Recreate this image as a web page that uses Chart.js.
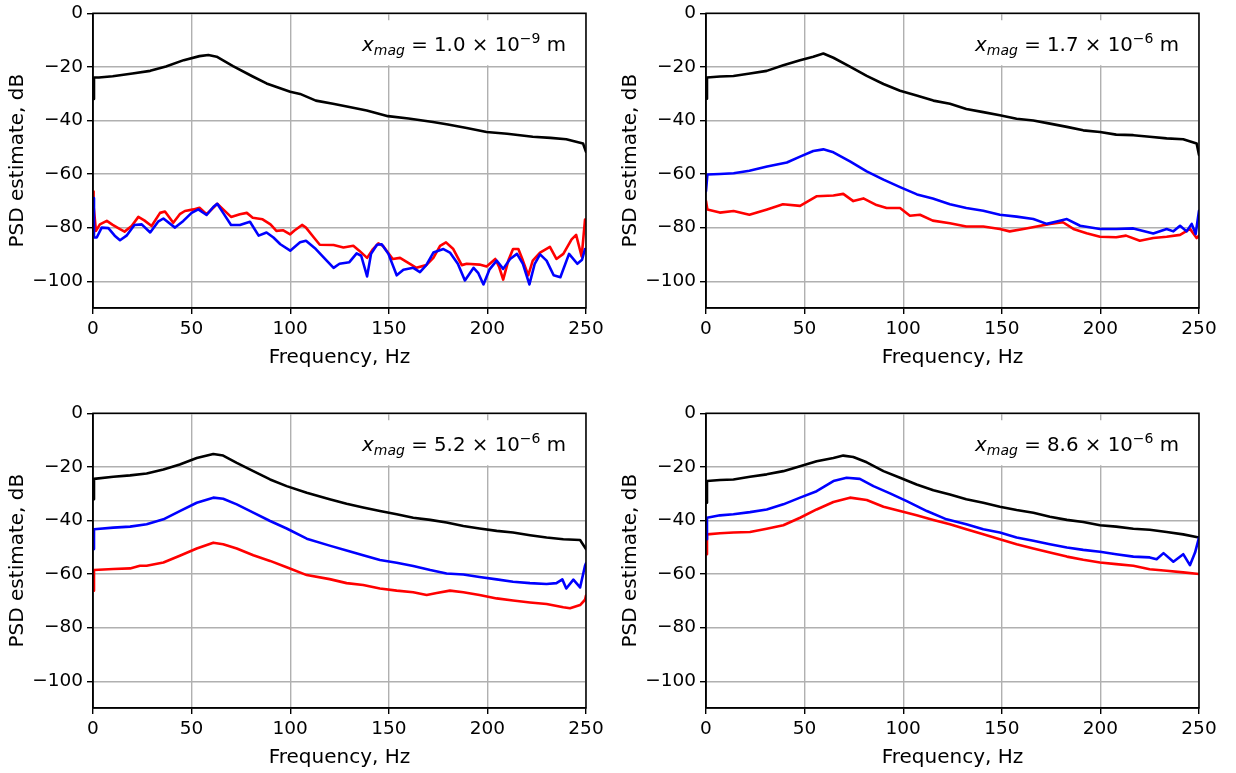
<!DOCTYPE html>
<html><head><meta charset="utf-8">
<script src="https://cdn.jsdelivr.net/npm/chart.js@4.4.0/dist/chart.umd.min.js"></script>
<style>
html,body{margin:0;padding:0;background:#fff;}
#wrap{position:relative;width:1236px;height:773px;overflow:hidden;}
.cell{position:absolute;width:618px;height:373px;}
canvas{display:block;}
</style></head><body>
<div id="wrap">
<div class="cell" style="left:0;top:0"><canvas id="c0" width="618" height="373"></canvas></div>
<div class="cell" style="left:613px;top:0"><canvas id="c1" width="618" height="373"></canvas></div>
<div class="cell" style="left:0;top:400px"><canvas id="c2" width="618" height="373"></canvas></div>
<div class="cell" style="left:613px;top:400px"><canvas id="c3" width="618" height="373"></canvas></div>
</div>
<script>
// ---- tick labels / annotation text ----
const xTicks = [0, 50, 100, 150, 200, 250];
const yTicks = [0, -20, -40, -60, -80, -100];
const noteMantissa = ['1.0', '1.7', '5.2', '8.6'];
const noteExponent = ['\u22129', '\u22126', '\u22126', '\u22126'];

// ---- panel A (top-left): [frequency Hz, PSD dB] ----
const A_black = [[0,-32],[0.5,-24],[3,-24],[10,-23.5],[20,-22.5],[29,-21.5],[37,-19.9],[46,-17.5],[54,-16],[58.5,-15.6],[62.7,-16.2],[71,-19.7],[81,-23.6],[88,-26.2],[100,-29.3],[105,-30.1],[113,-32.6],[121.7,-33.8],[130,-35],[138.8,-36.3],[149.6,-38.4],[160,-39.3],[172.4,-40.6],[180,-41.5],[189.5,-42.8],[199.6,-44.3],[210,-45],[223,-46.1],[232,-46.5],[240,-47],[248.5,-48.6],[250,-51.7]];
const A_blue = [[0,-69],[0.5,-83.7],[1.9,-83.7],[4.4,-80],[7.8,-80.2],[11,-83],[13.7,-84.7],[17,-83],[21,-79],[24.7,-78.8],[29,-81.8],[33,-77.8],[35.7,-76.6],[41.6,-80],[45.8,-77.5],[50,-74.5],[53.4,-73.2],[57.6,-75.3],[61,-72.3],[63,-71.1],[66,-74.5],[70,-79],[74.5,-79],[79.6,-77.8],[84,-83],[88,-81.8],[91.5,-83.7],[95,-86.2],[100,-88.6],[105,-85.5],[108,-84.9],[113,-88],[118.5,-92.3],[122,-95],[125,-93.5],[130,-92.9],[133.7,-89.6],[136,-90.5],[139,-98.2],[141,-89.8],[144,-86.4],[146.4,-86.2],[149.8,-89.8],[154,-97.8],[157.4,-95.7],[162.4,-95],[165.8,-96.6],[169,-94],[172.6,-89.3],[177.7,-88],[181,-89.3],[185,-93.5],[188.6,-99.7],[193,-95],[195.4,-97],[198,-101.2],[201,-95.7],[204.7,-92.3],[208,-95.4],[211.5,-91.7],[215,-89.8],[218,-93.5],[221.3,-101.2],[224,-93.5],[226.7,-90],[230,-92.3],[233.6,-97.8],[237,-98.5],[241.4,-89.8],[245.6,-93.5],[248,-92],[249.5,-88],[250,-88]];
const A_red = [[0,-66.5],[0.3,-72],[1.5,-81.2],[3.5,-78.8],[7,-77.5],[10,-79],[13.7,-80.6],[16,-81.5],[19.6,-79.4],[23,-76],[26,-77.3],[29.7,-79.4],[34,-74.5],[36.5,-74],[40.7,-78.2],[44,-75],[46.6,-73.8],[51,-73.2],[54,-72.6],[57.6,-75],[61,-72.6],[63,-71.1],[66,-73.2],[70,-76],[74.5,-75],[78,-74.5],[81,-76.3],[86,-76.9],[90,-78.8],[93,-81.2],[96.5,-81],[100,-82.5],[102,-81.2],[106,-79],[108,-80],[112,-83.7],[115,-86.4],[122,-86.5],[127,-87.4],[132,-86.8],[135,-88.6],[139,-91.3],[142,-88],[144.7,-85.9],[147,-86.8],[152,-91.7],[155.7,-91.3],[160.7,-93.5],[164,-95],[169,-94],[172.6,-91.3],[176,-86.8],[179,-85.5],[182.7,-88],[187,-94],[189.5,-93.5],[196,-93.8],[199.6,-94.5],[204,-91.7],[206,-94.8],[208,-99.4],[210.6,-92.3],[213,-88],[215.7,-88],[218,-92.3],[220.7,-97.8],[223,-92.3],[226.7,-89.3],[231.7,-87.2],[235,-91.7],[238.5,-89.8],[242.7,-84.4],[245,-82.7],[247.8,-90.8],[249.5,-77],[250,-77]];

// ---- panel B (top-right) ----
const B_black = [[0,-31.9],[0.5,-24],[7.1,-23.6],[13.9,-23.4],[22.3,-22.5],[30.8,-21.5],[39.2,-19.4],[47.7,-17.5],[54.4,-16.2],[59.5,-15],[64.6,-16.6],[73,-19.9],[81.5,-23.4],[90,-26.4],[98.4,-28.9],[106.8,-30.7],[115.3,-32.6],[123.7,-33.8],[132,-35.7],[140.6,-36.9],[149,-38.1],[157.5,-39.4],[166,-40],[174.4,-41.2],[183,-42.4],[191.3,-43.7],[199.8,-44.3],[208,-45.3],[216.7,-45.5],[225,-46.1],[233.6,-46.7],[242,-47],[248.8,-48.6],[250,-52.9]];
const B_blue = [[0,-66.4],[0.7,-60.2],[7,-60],[14,-59.7],[22,-58.8],[31,-57.2],[41,-55.7],[47.7,-53.5],[54.4,-51.4],[59.5,-50.8],[64.6,-51.9],[73,-55.3],[81.5,-59],[90,-62.1],[98.4,-64.9],[107,-67.6],[115,-69.1],[123.7,-71.3],[132,-72.7],[140.6,-73.7],[149,-75.2],[157.5,-75.9],[166,-76.8],[172.8,-78.6],[177.8,-77.7],[183,-76.8],[189.7,-79.3],[199.8,-80.5],[208,-80.5],[216.7,-80.3],[226.8,-82.2],[233.6,-80.5],[237,-81.4],[240.4,-79.3],[243.7,-81.4],[246.3,-78.6],[248.3,-82.4],[250,-73.7]];
const B_red = [[0,-70.1],[0.7,-73.2],[7,-74.4],[14,-73.8],[22,-75.2],[31,-73.2],[39,-71.3],[47.7,-71.9],[56,-68.3],[64.6,-68],[69.6,-67.4],[74.7,-70.1],[79.8,-69.1],[86.5,-71.6],[91.6,-72.7],[98.4,-72.7],[103.4,-75.6],[108.5,-75.2],[115,-77.4],[123.7,-78.4],[132,-79.6],[140.6,-79.6],[149,-80.5],[154,-81.4],[161,-80.5],[167.7,-79.6],[174.4,-78.6],[181,-78],[186.3,-80.5],[193,-82.1],[199.8,-83.4],[208,-83.6],[213,-83],[220,-84.9],[226.8,-83.9],[233.6,-83.4],[240.4,-82.7],[245.5,-80.5],[248.8,-83.9],[250,-83]];

// ---- panel C (bottom-left) ----
const C_black = [[0,-32.1],[0.5,-24.5],[10.3,-23.7],[18.8,-23.2],[27.2,-22.5],[35.7,-21],[44,-19.1],[52.6,-16.7],[61,-15.2],[66,-15.8],[72.9,-18.5],[81.3,-21.6],[89.8,-24.7],[98.2,-27.2],[108.4,-29.7],[120,-32.1],[128.6,-33.8],[137,-35.2],[145.5,-36.5],[154,-37.7],[162.4,-39],[171,-39.8],[179.3,-40.8],[187.8,-42.1],[196,-43],[204.7,-43.9],[213,-44.5],[221.6,-45.5],[230,-46.4],[238.5,-47],[247,-47.3],[250,-50.7]];
const C_blue = [[0,-50.7],[0.5,-43.3],[10.3,-42.7],[18.8,-42.3],[27.2,-41.4],[35.7,-39.6],[44,-36.5],[52.6,-33.4],[61,-31.5],[66,-31.9],[72.9,-34],[81.3,-37.1],[89.8,-40.2],[98.2,-43],[108.4,-46.8],[120,-49.4],[128.6,-51.2],[137,-53],[145.5,-54.8],[154,-55.8],[162.4,-57],[171,-58.5],[179.3,-59.8],[187.8,-60.2],[196,-61.1],[204.7,-62],[213,-62.9],[221.6,-63.4],[230,-63.7],[235,-63.4],[238,-62],[240,-65.4],[243.6,-62.1],[247,-65],[249.5,-56.9],[250,-56]];
const C_red = [[0,-66.2],[0.5,-58.5],[10.3,-58.1],[18.8,-57.9],[23.8,-56.9],[27.2,-56.9],[35.7,-55.7],[44,-53.2],[52.6,-50.5],[61,-48.3],[66,-48.9],[72.9,-50.5],[81.3,-53],[89.8,-55.1],[98.2,-57.5],[108.4,-60.4],[120,-61.9],[128.6,-63.4],[137,-64.1],[145.5,-65.4],[154,-66.2],[162.4,-66.8],[169.2,-67.8],[174.3,-67.1],[181,-66.2],[187.8,-66.8],[196,-67.8],[204.7,-69.1],[213,-69.9],[221.6,-70.6],[230,-71.2],[238.5,-72.4],[241.9,-72.8],[247,-71.6],[249.5,-69.6],[250,-68]];

// ---- panel D (bottom-right) ----
const D_black = [[0,-33.4],[0.5,-25.3],[7.1,-24.9],[13.9,-24.7],[22.3,-23.7],[30.8,-22.8],[39.2,-21.6],[47.7,-19.8],[56.1,-17.9],[64.6,-16.7],[69.6,-15.8],[74.7,-16.3],[81.5,-18.3],[90,-21.6],[98.4,-24.1],[106.8,-26.6],[115.3,-28.7],[123.7,-30.3],[132,-32.1],[140.6,-33.4],[149,-34.9],[157.5,-36.1],[166,-37.1],[174.4,-38.6],[183,-39.8],[191.3,-40.6],[199.8,-41.8],[208,-42.3],[216.7,-43.1],[225,-43.5],[233.6,-44.3],[242,-45.2],[250,-46.4]];
const D_blue = [[0,-47],[0.5,-39],[7.1,-38.1],[13.9,-37.7],[22.3,-36.9],[30.8,-35.9],[39.2,-34],[47.7,-31.5],[56.1,-29.1],[64.6,-25.3],[71.3,-24.1],[78,-24.5],[84.9,-27.2],[93.3,-29.9],[101.8,-32.8],[112,-36.5],[122,-39.6],[132,-41.4],[140.6,-43.3],[149,-44.5],[157.5,-46.4],[166,-47.6],[174.4,-48.9],[183,-50.1],[191.3,-51],[199.8,-51.7],[208,-52.6],[216.7,-53.5],[225,-53.8],[228.5,-54.5],[232,-52.2],[237,-55.4],[242,-52.6],[245.4,-56.7],[248,-52],[250,-46.4]];
const D_red = [[0,-52.6],[0.5,-45.2],[7.1,-44.8],[13.9,-44.5],[22.3,-44.3],[30.8,-43.1],[39.2,-41.8],[47.7,-39],[56.1,-35.9],[64.6,-33.1],[73,-31.5],[81.5,-32.4],[90,-34.9],[98.4,-36.5],[106.8,-38.1],[115.3,-39.8],[123.7,-41.4],[132,-43.3],[140.6,-45.2],[149,-47],[157.5,-48.9],[166,-50.5],[174.4,-52],[183,-53.5],[191.3,-54.7],[199.8,-55.7],[208,-56.3],[216.7,-56.9],[225,-58.2],[233.6,-58.8],[242,-59.4],[250,-60]];

const panels = [
  {black: A_black, blue: A_blue, red: A_red},
  {black: B_black, blue: B_blue, red: B_red},
  {black: C_black, blue: C_blue, red: C_red},
  {black: D_black, blue: D_blue, red: D_red}
];

// ---- rendering ----
const FONT = '"DejaVu Sans", "Liberation Sans", sans-serif';
const FS = 18.5;   // tick labels
const FT = 20;     // axis titles
Chart.defaults.font.family = FONT;
Chart.defaults.font.size = FS;
Chart.defaults.color = '#000';

const framePlugin = {
  id: 'frame',
  afterDatasetsDraw(chart) {
    const {ctx, chartArea: a} = chart;
    ctx.save();
    ctx.strokeStyle = '#000';
    ctx.lineWidth = 1.5;
    ctx.strokeRect(a.left, a.top, a.right - a.left, a.bottom - a.top);
    ctx.restore();
  }
};

const notePlugin = {
  id: 'note',
  afterDatasetsDraw(chart, args, opts) {
    const {ctx, chartArea: a} = chart;
    const S = 19.8, s = 14;
    const parts = [
      {t: 'x', f: `italic ${S}px ${FONT}`, dy: 0},
      {t: 'mag', f: `italic ${s}px ${FONT}`, dy: 4},
      {t: ' = ' + opts.mant + ' \u00d7 10', f: `${S}px ${FONT}`, dy: 0},
      {t: opts.exp, f: `${s}px ${FONT}`, dy: -8},
      {t: ' m', f: `${S}px ${FONT}`, dy: 0}
    ];
    ctx.save();
    let W = 0;
    parts.forEach(p => { ctx.font = p.f; p.w = ctx.measureText(p.t).width; W += p.w; });
    const right = a.right - 20;
    const base = a.top + 38;
    let x = right - W;
    ctx.fillStyle = '#fff';
    ctx.fillRect(x - 7, a.top + 7, W + 14, 45);
    ctx.fillStyle = '#000';
    ctx.textBaseline = 'alphabetic';
    ctx.textAlign = 'left';
    parts.forEach(p => { ctx.font = p.f; ctx.fillText(p.t, x, base + p.dy); x += p.w; });
    ctx.restore();
  }
};

function fmt(v) { return v < 0 ? '\u2212' + Math.abs(v) : String(v); }
function toXY(arr) { return arr.map(([x, y]) => ({x, y})); }

panels.forEach((p, i) => {
  new Chart(document.getElementById('c' + i), {
    type: 'line',
    data: {
      datasets: [
        {data: toXY(p.blue), borderColor: '#0000ff', order: 1},
        {data: toXY(p.red), borderColor: '#ff0000', order: 2},
        {data: toXY(p.black), borderColor: '#000000', order: 3}
      ]
    },
    options: {
      responsive: false,
      animation: false,
      events: [],
      parsing: false,
      layout: {padding: {left: 0, right: 32, top: 10, bottom: 0}},
      elements: {point: {radius: 0}, line: {borderWidth: 2.6, tension: 0, fill: false, borderJoinStyle: 'round', borderCapStyle: 'round'}},
      plugins: {
        legend: {display: false},
        tooltip: {enabled: false},
        note: {mant: noteMantissa[i], exp: noteExponent[i]}
      },
      scales: {
        x: {
          type: 'linear', min: 0, max: 250,
          afterBuildTicks: s => { s.ticks = xTicks.map(v => ({value: v})); },
          afterFit: s => { s.height = 65; },
          ticks: {padding: 6, maxRotation: 0, autoSkip: false, color: '#000', font: {size: FS, lineHeight: 1}, callback: v => fmt(v)},
          grid: {color: '#b0b0b0', lineWidth: 1.4, tickColor: '#000', tickLength: 6, tickWidth: 1.4},
          border: {color: '#000', width: 1.5},
          title: {display: true, text: 'Frequency, Hz', color: '#000', font: {size: FT}, padding: {top: 0, bottom: 3}}
        },
        y: {
          type: 'linear', min: -110, max: 0,
          afterBuildTicks: s => { s.ticks = yTicks.map(v => ({value: v})); },
          afterFit: s => { s.width = 93; },
          ticks: {padding: 4, color: '#000', font: {size: FS, lineHeight: 1}, callback: v => fmt(v)},
          grid: {color: '#b0b0b0', lineWidth: 1.4, tickColor: '#000', tickLength: 6, tickWidth: 1.4},
          border: {color: '#000', width: 1.5},
          title: {display: true, text: 'PSD estimate, dB', color: '#000', font: {size: FT}, padding: {top: 6, bottom: 0}}
        }
      }
    },
    plugins: [framePlugin, notePlugin]
  });
});
</script>
</body></html>
